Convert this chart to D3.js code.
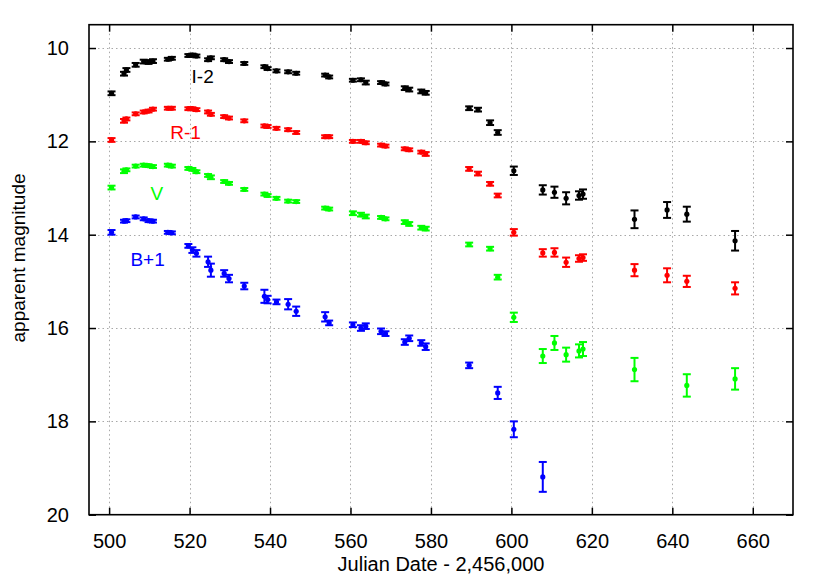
<!DOCTYPE html>
<html>
<head>
<meta charset="utf-8">
<script src="https://cdn.jsdelivr.net/npm/d3@7"></script>
<style>
  html, body { margin: 0; padding: 0; background: #fff; }
  svg { display: block; font-family: "Liberation Sans", Arial, Helvetica, sans-serif; }
</style>
</head>
<body>
<svg id="chart" width="830" height="581"></svg>
<script>
// ---- data ----
const dates = [500.6, 503.7, 504.3, 506.6, 508.6, 509.8, 510.9, 514.6, 515.6, 519.7,
  520.7, 521.7, 524.6, 525.3, 528.6, 529.8, 533.6, 538.6, 539.4, 541.6,
  544.5, 546.5, 553.7, 554.7, 560.6, 562.6, 563.8, 567.6, 568.7, 573.5,
  574.6, 577.6, 578.7, 589.5, 591.7, 594.7, 596.6, 600.6, 607.8, 610.7,
  613.6, 616.8, 617.8, 630.6, 638.7, 643.6, 655.6];

const magI = [10.97, 10.55, 10.47, 10.36, 10.29, 10.30, 10.28, 10.24, 10.22, 10.16,
  10.15, 10.17, 10.25, 10.21, 10.25, 10.29, 10.33, 10.40, 10.44, 10.49,
  10.51, 10.54, 10.58, 10.62, 10.69, 10.68, 10.74, 10.74, 10.77, 10.86,
  10.89, 10.93, 10.96, 11.29, 11.32, 11.60, 11.81, 12.63, 13.04, 13.09,
  13.22, 13.16, 13.13, 13.67, 13.47, 13.56, 14.13];
const errI = [0.04, 0.04, 0.04, 0.04, 0.04, 0.04, 0.04, 0.03, 0.03, 0.03,
  0.03, 0.03, 0.03, 0.03, 0.03, 0.03, 0.03, 0.03, 0.03, 0.03,
  0.03, 0.03, 0.03, 0.03, 0.03, 0.03, 0.04, 0.03, 0.03, 0.04,
  0.04, 0.04, 0.04, 0.04, 0.04, 0.05, 0.05, 0.09, 0.10, 0.12,
  0.13, 0.09, 0.10, 0.19, 0.17, 0.16, 0.21];

const magR = [11.97, 11.56, 11.52, 11.41, 11.37, 11.35, 11.31, 11.29, 11.29, 11.30,
  11.30, 11.32, 11.37, 11.42, 11.47, 11.50, 11.56, 11.67, 11.68, 11.72,
  11.75, 11.81, 11.90, 11.90, 12.00, 12.00, 12.03, 12.08, 12.10, 12.16,
  12.18, 12.23, 12.27, 12.59, 12.69, 12.91, 13.16, 13.95, 14.39, 14.38,
  14.59, 14.51, 14.49, 14.76, 14.87, 15.00, 15.15];
const errR = [0.04, 0.04, 0.03, 0.03, 0.03, 0.03, 0.03, 0.03, 0.03, 0.03,
  0.03, 0.03, 0.03, 0.03, 0.03, 0.03, 0.03, 0.03, 0.03, 0.03,
  0.03, 0.03, 0.03, 0.03, 0.03, 0.03, 0.03, 0.03, 0.03, 0.03,
  0.03, 0.03, 0.04, 0.04, 0.04, 0.04, 0.04, 0.07, 0.08, 0.09,
  0.10, 0.07, 0.07, 0.13, 0.15, 0.12, 0.13];

const magV = [12.99, 12.64, 12.61, 12.53, 12.51, 12.52, 12.54, 12.51, 12.53, 12.58,
  12.60, 12.65, 12.73, 12.77, 12.86, 12.90, 13.03, 13.13, 13.16, 13.22,
  13.28, 13.29, 13.43, 13.45, 13.54, 13.57, 13.61, 13.63, 13.66, 13.73,
  13.77, 13.85, 13.87, 14.21, null, 14.30, 14.91, 15.77, 16.60, 16.32,
  16.57, 16.49, 16.45, 16.89, null, 17.23, 17.09];
const errV = [0.04, 0.04, 0.03, 0.03, 0.03, 0.03, 0.03, 0.03, 0.03, 0.03,
  0.03, 0.03, 0.03, 0.04, 0.03, 0.03, 0.03, 0.03, 0.03, 0.03,
  0.03, 0.03, 0.03, 0.03, 0.04, 0.04, 0.04, 0.03, 0.03, 0.04,
  0.04, 0.04, 0.04, 0.04, null, 0.04, 0.05, 0.10, 0.15, 0.15,
  0.15, 0.14, 0.15, 0.25, null, 0.24, 0.23];

const magB = [13.95, 13.71, 13.70, 13.62, 13.66, 13.70, 13.71, 13.95, 13.96, 14.24,
  14.33, 14.40, 14.58, 14.76, 14.83, 14.94, 15.10, 15.32, 15.39, 15.44,
  15.49, 15.64, 15.76, 15.89, 15.93, 16.00, 15.96, 16.07, 16.12, 16.30,
  16.22, 16.32, 16.40, 16.80, null, null, 17.39, 18.17, 19.19, null,
  null, null, null, null, null, null, null];
const errB = [0.05, 0.03, 0.03, 0.03, 0.03, 0.03, 0.03, 0.03, 0.03, 0.04,
  0.06, 0.07, 0.11, 0.14, 0.07, 0.08, 0.07, 0.14, 0.08, 0.05,
  0.11, 0.10, 0.10, 0.05, 0.05, 0.06, 0.06, 0.06, 0.05, 0.06,
  0.06, 0.06, 0.07, 0.06, null, null, 0.13, 0.17, 0.32, null,
  null, null, null, null, null, null, null];

const seriesNames = ["I-2", "R-1", "V", "B+1"];
const seriesColors = ["#000000", "#ff0000", "#00ff00", "#0000ff"];
const seriesMags = [magI, magR, magV, magB];
const seriesErrs = [errI, errR, errV, errB];
// label anchor points in data coordinates
const labelDates = [520.5, 515.2, 510.3, 505.3];
const labelMags = [10.75, 11.95, 13.26, 14.67];

const xTicks = [500, 520, 540, 560, 580, 600, 620, 640, 660];
const yTicks = [10, 12, 14, 16, 18, 20];
const xTitle = "Julian Date - 2,456,000";
const yTitle = "apparent magnitude";

// ---- layout ----
const svg = d3.select("#chart");
const L = 89, R = 793, T = 24.7, B = 514.7;
const x = d3.scaleLinear().domain([495, 670]).range([L, R]);
const y = d3.scaleLinear().domain([9.5, 20]).range([T, B]);

// grid
const grid = svg.append("g").attr("stroke", "#a8a8a8").attr("stroke-width", 1)
  .attr("stroke-dasharray", "1.5,3");
grid.selectAll("line.gx").data(xTicks).join("line")
  .attr("x1", d => Math.round(x(d)) + 0.5).attr("x2", d => Math.round(x(d)) + 0.5)
  .attr("y1", T).attr("y2", B);
grid.selectAll("line.gy").data(yTicks.filter(v => v < 20)).join("line")
  .attr("class", "gy")
  .attr("y1", d => Math.round(y(d)) + 0.5).attr("y2", d => Math.round(y(d)) + 0.5)
  .attr("x1", L).attr("x2", R);

// axes with inward ticks (mirrored)
const fontTick = "20px";
const axB = d3.axisBottom(x).tickValues(xTicks).tickSize(-7).tickPadding(19).tickFormat(d3.format("d"));
const axT = d3.axisTop(x).tickValues(xTicks).tickSize(-7).tickFormat("");
const axL = d3.axisLeft(y).tickValues(yTicks).tickSize(-7).tickPadding(20).tickFormat(d3.format("d"));
const axR = d3.axisRight(y).tickValues(yTicks).tickSize(-7).tickFormat("");

function style(g) {
  g.select(".domain").remove();
  g.selectAll(".tick line").attr("stroke", "#000").attr("stroke-width", 1.5);
  g.selectAll(".tick text").attr("fill", "#000").style("font-size", fontTick)
    .style("font-family", '"Liberation Sans", Arial, sans-serif');
}
svg.append("g").attr("transform", `translate(0,${B})`).call(axB).call(style);
svg.append("g").attr("transform", `translate(0,${T})`).call(axT).call(style);
svg.append("g").attr("transform", `translate(${L},0)`).call(axL).call(style);
svg.append("g").attr("transform", `translate(${R},0)`).call(axR).call(style);

// frame
svg.append("rect").attr("x", L).attr("y", T).attr("width", R - L).attr("height", B - T)
  .attr("fill", "none").attr("stroke", "#000").attr("stroke-width", 1.6);

// data with error bars
const capW = 4;
seriesNames.forEach((name, si) => {
  const color = seriesColors[si];
  const pts = dates.map((d, i) => ({ d, m: seriesMags[si][i], e: seriesErrs[si][i] }))
    .filter(p => p.m !== null);
  const g = svg.append("g").attr("stroke", color).attr("fill", color);
  const eb = g.selectAll("g.eb").data(pts).join("g");
  eb.append("line")
    .attr("x1", p => x(p.d)).attr("x2", p => x(p.d))
    .attr("y1", p => y(p.m - p.e)).attr("y2", p => y(p.m + p.e))
    .attr("stroke-width", 2);
  eb.append("line")
    .attr("x1", p => x(p.d) - capW).attr("x2", p => x(p.d) + capW)
    .attr("y1", p => y(p.m - p.e)).attr("y2", p => y(p.m - p.e))
    .attr("stroke-width", 2);
  eb.append("line")
    .attr("x1", p => x(p.d) - capW).attr("x2", p => x(p.d) + capW)
    .attr("y1", p => y(p.m + p.e)).attr("y2", p => y(p.m + p.e))
    .attr("stroke-width", 2);
  eb.append("circle")
    .attr("cx", p => x(p.d)).attr("cy", p => y(p.m)).attr("r", 2.6)
    .attr("stroke", "none");

  svg.append("text")
    .attr("x", x(labelDates[si])).attr("y", y(labelMags[si]))
    .attr("fill", color).style("font-size", "19px")
    .text(name);
});

// titles
svg.append("text")
  .attr("x", (L + R) / 2).attr("y", 571)
  .attr("text-anchor", "middle").style("font-size", "20px").attr("fill", "#000")
  .text(xTitle);
svg.append("text")
  .attr("transform", `translate(25,258) rotate(-90)`)
  .attr("text-anchor", "middle").style("font-size", "19px").attr("fill", "#000")
  .text(yTitle);
</script>
</body>
</html>
